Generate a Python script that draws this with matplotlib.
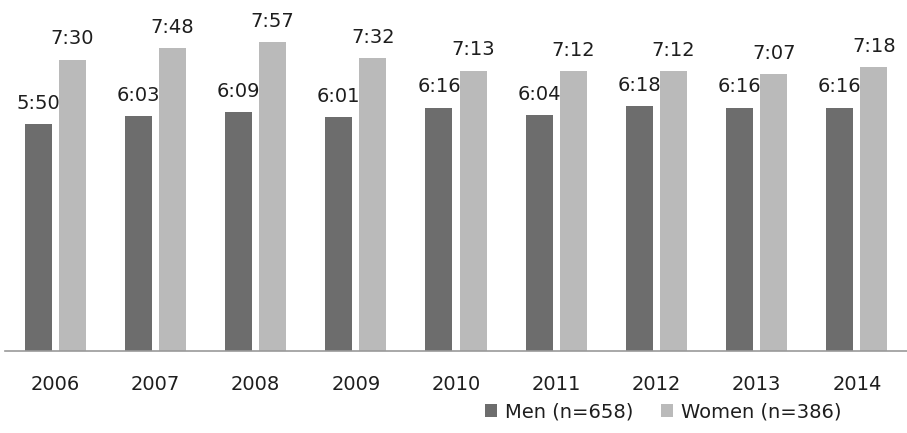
import matplotlib
matplotlib.use("Agg")
import matplotlib.pyplot as plt
import numpy as np

years = ["2006", "2007", "2008", "2009", "2010", "2011", "2012", "2013", "2014"]
men = ["5:50", "6:03", "6:09", "6:01", "6:16", "6:04", "6:18", "6:16", "6:16"]
women = ["7:30", "7:48", "7:57", "7:32", "7:13", "7:12", "7:12", "7:07", "7:18"]


def to_minutes(t):
    h, m = t.split(":")
    return int(h) * 60 + int(m)


men_min = [to_minutes(t) for t in men]
women_min = [to_minutes(t) for t in women]

plt.rcParams["font.family"] = ["DejaVu Sans"]

fig = plt.figure(figsize=(9.07, 4.33), dpi=100)
ax = fig.add_axes([5 / 907, 82 / 433, 902 / 907, 351 / 433])

x = np.arange(len(years))
w = 0.27
off = 0.17
dark = "#6d6d6d"
light = "#bababa"
txt = "#1e1e1e"

b1 = ax.bar(x - off, men_min, w, color=dark, label="Men (n=658)")
b2 = ax.bar(x + off, women_min, w, color=light, label="Women (n=386)")

for xi, v, t in zip(x, men_min, men):
    ax.annotate(t, (xi - off, v), xytext=(0, 8), textcoords="offset points",
                ha="center", va="bottom", fontsize=14, color=txt)
for xi, v, t in zip(x, women_min, women):
    ax.annotate(t, (xi + off, v), xytext=(0, 8), textcoords="offset points",
                ha="center", va="bottom", fontsize=14, color=txt)

ax.set_xlim(-0.5, len(years) - 0.5)
ax.set_ylim(0, 542)
ax.set_xticks(x)
ax.set_xticklabels(years, fontsize=14, color=txt)
ax.tick_params(axis="x", length=0, pad=17)
ax.set_yticks([])
for s in ["top", "right", "left"]:
    ax.spines[s].set_visible(False)
ax.spines["bottom"].set_color("#999999")
ax.spines["bottom"].set_linewidth(1.2)

fig.legend(handles=[b1, b2], loc="center", bbox_to_anchor=(663 / 907, 1 - 412 / 433),
           ncol=2, frameon=False, fontsize=14, handlelength=0.65, handleheight=0.65,
           handletextpad=0.4, columnspacing=1.4, labelcolor=txt)

fig.savefig("out.png", dpi=100)
